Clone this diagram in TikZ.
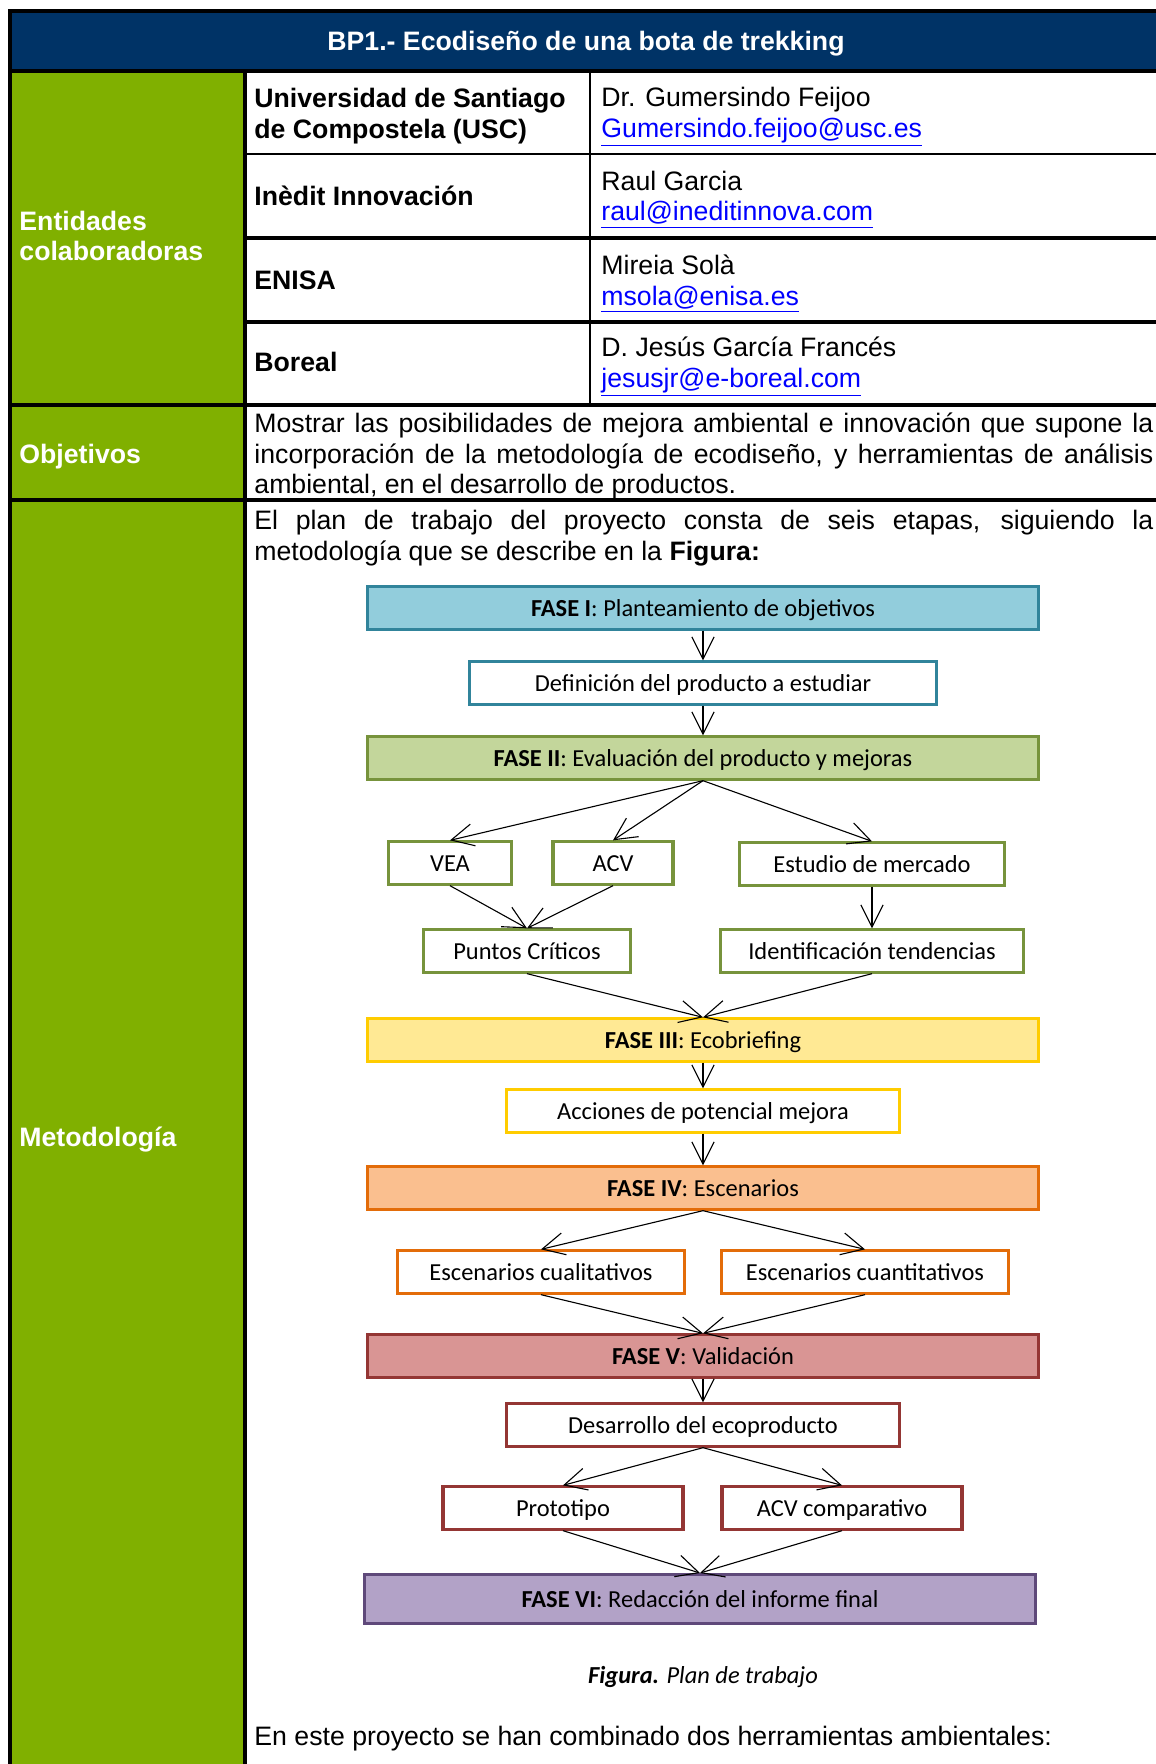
\documentclass[tikz,border=0pt]{standalone}
\usepackage{fontspec}
\setmainfont{Liberation Sans}
\newfontfamily\calibri{Carlito}
\usepackage{xcolor}
\definecolor{hdblue}{RGB}{0,51,102}
\definecolor{colgreen}{RGB}{128,176,0}
\definecolor{linkblue}{RGB}{0,0,255}
\definecolor{f1line}{RGB}{49,132,155}
\definecolor{f1fill}{RGB}{146,205,220}
\definecolor{f2line}{RGB}{119,147,60}
\definecolor{f2fill}{RGB}{195,214,155}
\definecolor{f3line}{RGB}{255,204,0}
\definecolor{f3fill}{RGB}{255,233,148}
\definecolor{f4line}{RGB}{227,108,9}
\definecolor{f4fill}{RGB}{250,191,143}
\definecolor{f5line}{RGB}{148,54,52}
\definecolor{f5fill}{RGB}{217,149,148}
\definecolor{f6line}{RGB}{95,73,122}
\definecolor{f6fill}{RGB}{178,162,199}
\usetikzlibrary{arrows.meta,positioning}
\newcommand{\mail}[1]{\textcolor{linkblue}{\underline{#1}}}

\begin{document}
\begin{tikzpicture}[x=0.45pt,y=-0.45pt,
  txt/.style={font=\fontsize{12}{13.8}\selectfont,inner sep=0pt,align=left,anchor=west},
  org/.style={txt,font=\fontsize{12}{13.8}\selectfont\bfseries},
  lbl/.style={org,text=white},
  ttl/.style={font=\fontsize{12}{13.8}\selectfont\bfseries,text=white,inner sep=0pt},
  caja/.style={font=\calibri\fontsize{11}{13}\selectfont,line width=1.4pt,inner sep=0pt,minimum height=19pt,text height=7.8pt,text depth=0pt},
  fase/.style={caja,minimum width=302pt},
  paso/.style={caja,fill=white},
  flecha/.style={-{Straight Barb[length=10pt,width=10pt]},line width=0.5pt}
]
  \useasboundingbox (0,0) rectangle (1156,1764);
  \clip (0,0) rectangle (1156,1764);

  % Table
  \fill[hdblue] (10,11) rectangle (1170,71);
  \fill[colgreen] (10,71) rectangle (245,1770);
  \draw[line width=1.6pt] (8,11) -- (1170,11);
  \draw[line width=1.6pt] (10,9) -- (10,1770);
  \draw[line width=1.8pt] (10,71) -- (1170,71);
  \draw[line width=1.8pt] (245,71) -- (245,1770);
  \draw[line width=0.9pt] (590,71) -- (590,405);
  \draw[line width=0.9pt] (245,154) -- (1170,154);
  \draw[line width=1.6pt] (245,238) -- (1170,238);
  \draw[line width=1.6pt] (245,322) -- (1170,322);
  \draw[line width=1.8pt] (10,405) -- (1170,405);
  \draw[line width=1.8pt] (10,500) -- (1170,500);

  \node[ttl] (tit) at (586,44) {BP1.- Ecodiseño de una bota de trekking};
  \node[lbl] (ent) at (19,236) {Entidades\\colaboradoras};
  \node[lbl] (obl) at (19,457) {Objetivos};
  \node[lbl] (mel) at (19,1140) {Metodología};

  \node[org] (usc) at (254,116) {Universidad de Santiago\\de Compostela (USC)};
  \node[org] (ine) at (254,196) {Inèdit Innovación};
  \node[org] (eni) at (254,280) {ENISA};
  \node[org] (bor) at (254,362) {Boreal};
  \node[txt] (c1) at (601,117) {Dr. Gumersindo Feijoo\\\mail{Gumersindo.feijoo@usc.es}};
  \node[txt] (c2) at (601,200) {Raul Garcia\\\mail{raul@ineditinnova.com}};
  \node[txt] (c3) at (601,284) {Mireia Solà\\\mail{msola@enisa.es}};
  \node[txt] (c4) at (601,367) {D. Jesús García Francés\\\mail{jesusjr@e-boreal.com}};

  \node[txt,text width=404.5pt,align=justify] (obj) at (254,456) {Mostrar las posibilidades de mejora ambiental e innovación que supone la\linebreak incorporación de la metodología de ecodiseño, y herramientas de análisis\linebreak ambiental, en el desarrollo de productos.};
  \node[txt,text width=404.5pt,align=justify] (met) at (254,538) {El plan de trabajo del proyecto consta de seis etapas, siguiendo la\linebreak metodología que se describe en la \textbf{Figura:}};

  % Fase I
  \node[fase,draw=f1line,fill=f1fill] (f1) at (703,608) {\textbf{FASE I}: Planteamiento de objetivos};
  \node[paso,draw=f1line,minimum width=210pt] (def) at (703,683) {Definición del producto a estudiar};
  % Fase II
  \node[fase,draw=f2line,fill=f2fill] (f2) at (703,758) {\textbf{FASE II}: Evaluación del producto y mejoras};
  \node[paso,draw=f2line,minimum width=55pt] (vea) at (450,863) {VEA};
  \node[paso,draw=f2line,minimum width=54pt] (acv) at (613,863) {ACV};
  \node[paso,draw=f2line,minimum width=119pt] (mer) at (872,864) {Estudio de mercado};
  \node[paso,draw=f2line,minimum width=93pt] (pc) at (527,951) {Puntos Críticos};
  \node[paso,draw=f2line,minimum width=136pt] (ten) at (872,951) {Identificación tendencias};
  % Fase III
  \node[fase,draw=f3line,fill=f3fill] (f3) at (703,1040) {\textbf{FASE III}: Ecobriefing};
  \node[paso,draw=f3line,minimum width=177pt] (acc) at (703,1111) {Acciones de potencial mejora};
  % Fase IV
  \node[fase,draw=f4line,fill=f4fill] (f4) at (703,1188) {\textbf{FASE IV}: Escenarios};
  \node[paso,draw=f4line,minimum width=129pt] (cual) at (541,1272) {Escenarios cualitativos};
  \node[paso,draw=f4line,minimum width=129pt] (cuan) at (865,1272) {Escenarios cuantitativos};
  % Fase V
  \node[fase,draw=f5line,fill=f5fill] (f5) at (703,1356) {\textbf{FASE V}: Validación};
  \node[paso,draw=f5line,minimum width=177pt] (des) at (703,1425) {Desarrollo del ecoproducto};
  \node[paso,draw=f5line,minimum width=108pt] (pro) at (563,1508) {Prototipo};
  \node[paso,draw=f5line,minimum width=108pt] (acvc) at (842,1508) {ACV comparativo};
  % Fase VI
  \node[fase,draw=f6line,fill=f6fill,minimum height=22pt] (f6) at (700,1599) {\textbf{FASE VI}: Redacción del informe final};

  % Arrows
  \draw[flecha] (f1) -- (def);
  \draw[flecha] (def) -- (f2);
  \foreach \n in {vea,acv,mer} \draw[flecha] (f2.south) -- (\n.north);
  \foreach \n in {vea,acv} \draw[flecha] (\n.south) -- (pc.north);
  \draw[flecha] (mer) -- (ten);
  \foreach \n in {pc,ten} \draw[flecha] (\n.south) -- (f3.north);
  \draw[flecha] (f3) -- (acc);
  \draw[flecha] (acc) -- (f4);
  \foreach \n in {cual,cuan} \draw[flecha] (f4.south) -- (\n.north);
  \foreach \n in {cual,cuan} \draw[flecha] (\n.south) -- (f5.north);
  \draw[flecha] (f5) -- (des);
  \foreach \n in {pro,acvc} \draw[flecha] (des.south) -- (\n.north);
  \foreach \n in {pro,acvc} \draw[flecha] (\n.south) -- (f6.north);

  \node[font=\calibri\itshape\fontsize{11}{13}\selectfont] (cap) at (703,1677) {\textbf{Figura.} Plan de trabajo};
  \node[txt] (fin) at (254,1739) {En este proyecto se han combinado dos herramientas ambientales:};
\end{tikzpicture}
\end{document}
